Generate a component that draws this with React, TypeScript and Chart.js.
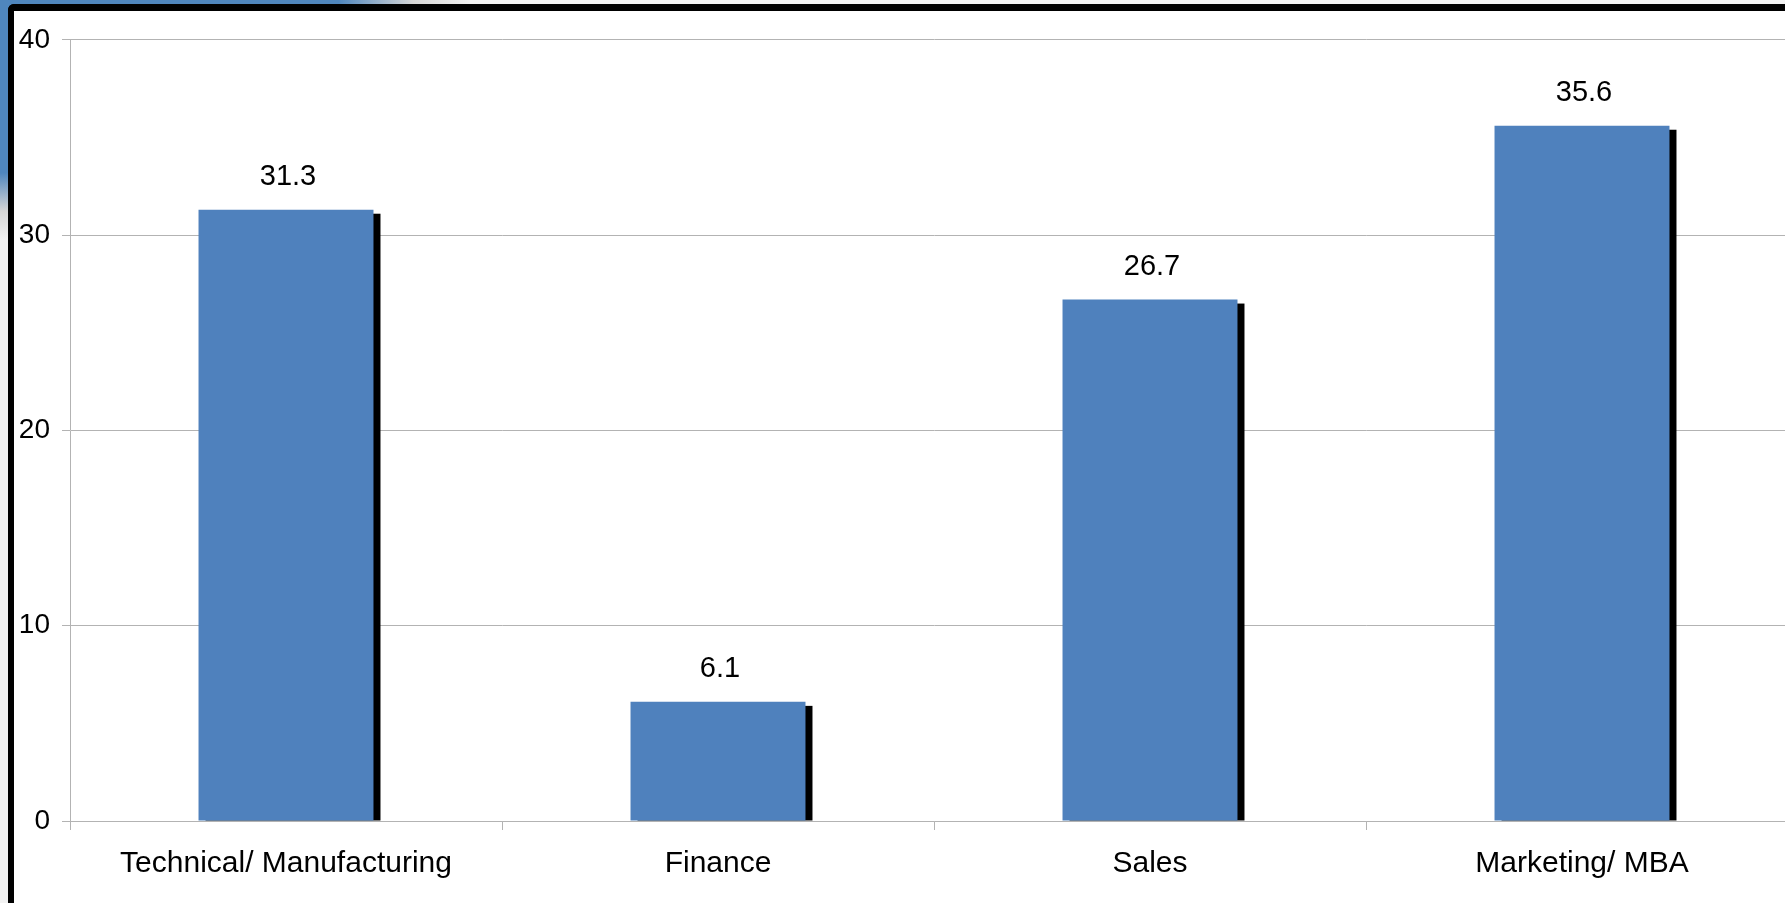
import React, { useEffect, useRef } from "react";
import { Chart, registerables } from "chart.js";

Chart.register(...registerables);

const categories = ["Technical/ Manufacturing", "Finance", "Sales", "Marketing/ MBA"];
const values = [31.3, 6.1, 26.7, 35.6];
const yTicks = [0, 10, 20, 30, 40];

const BAR_COLOR = "#4f81bd";
const GRID_COLOR = "#b3b3b3";
const FONT = "'Liberation Sans', Arial, sans-serif";

const shadowPlugin = {
  id: "barShadow",
  beforeDatasetsDraw(chart: any) {
    const ctx = chart.ctx;
    const area = chart.chartArea;
    const meta = chart.getDatasetMeta(0);
    ctx.save();
    ctx.beginPath();
    ctx.rect(area.left, area.top, area.right - area.left, area.bottom - area.top);
    ctx.clip();
    ctx.fillStyle = "#000000";
    meta.data.forEach((bar: any) => {
      const { x, y, base, width } = bar.getProps(["x", "y", "base", "width"], true);
      ctx.fillRect(x - width / 2 + 7, y + 4, width, base - y - 4);
    });
    ctx.restore();
  },
};

const labelPlugin = {
  id: "valueLabels",
  afterDatasetsDraw(chart: any) {
    const ctx = chart.ctx;
    const meta = chart.getDatasetMeta(0);
    ctx.save();
    ctx.fillStyle = "#000000";
    ctx.font = `29px ${FONT}`;
    ctx.textAlign = "center";
    ctx.textBaseline = "middle";
    meta.data.forEach((bar: any, i: number) => {
      const { x, y } = bar.getProps(["x", "y"], true);
      ctx.fillText(values[i].toFixed(1), x + 2, y - 33);
    });
    ctx.restore();
  },
};

export default function App() {
  const ref = useRef<HTMLCanvasElement | null>(null);

  useEffect(() => {
    if (!ref.current) return;
    const chart = new Chart(ref.current, {
      type: "bar",
      data: {
        labels: categories,
        datasets: [
          {
            data: values,
            backgroundColor: BAR_COLOR,
            borderWidth: 0,
            barPercentage: 1,
            categoryPercentage: 0.405,
          },
        ],
      },
      options: {
        animation: false,
        responsive: false,
        maintainAspectRatio: false,
        layout: { padding: { top: 26, left: 0, right: 0, bottom: 0 } },
        plugins: {
          legend: { display: false },
          tooltip: { enabled: false },
          title: { display: false },
        },
        scales: {
          x: {
            offset: true,
            grid: {
              display: true,
              drawOnChartArea: false,
              drawTicks: true,
              tickLength: 9,
              color: GRID_COLOR,
              offset: true,
            },
            border: { display: true, color: GRID_COLOR },
            ticks: {
              color: "#000000",
              font: { family: FONT, size: 30 },
              padding: 16,
              maxRotation: 0,
              autoSkip: false,
            },
            afterFit: (scale: any) => {
              scale.height = 82;
            },
          },
          y: {
            min: yTicks[0],
            max: yTicks[yTicks.length - 1],
            ticks: {
              stepSize: yTicks[1] - yTicks[0],
              color: "#000000",
              font: { family: FONT, size: 28 },
              padding: 12,
            },
            grid: { color: GRID_COLOR, tickLength: 8 },
            border: { display: true, color: GRID_COLOR },
            afterFit: (scale: any) => {
              scale.width = 56;
            },
          },
        },
      },
      plugins: [shadowPlugin, labelPlugin],
    });
    return () => chart.destroy();
  }, []);

  return (
    <div
      style={{
        position: "fixed",
        left: 0,
        top: 0,
        width: "100vw",
        height: "100vh",
        overflow: "hidden",
        background:
          "radial-gradient(ellipse 470px 240px at 0 0, #4f86bd 0%, #4f86bd 72%, #d6d6d6 88%, #f2f2f2 100%)",
      }}
    >
      <div
        style={{
          position: "absolute",
          left: 8,
          top: 4,
          width: 1900,
          height: 1000,
          background: "#ffffff",
          borderLeft: "6px solid #000000",
          borderTop: "7px solid #000000",
          borderTopLeftRadius: 6,
        }}
      >
        <canvas ref={ref} width={1784} height={892} style={{ display: "block" }} />
      </div>
    </div>
  );
}
